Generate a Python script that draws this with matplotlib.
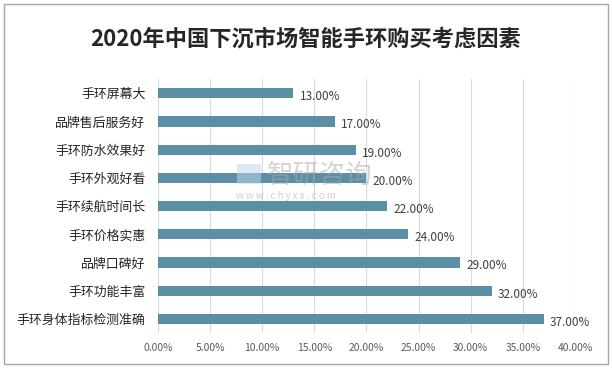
import matplotlib.pyplot as plt
from matplotlib.patches import Rectangle

plt.rcParams['font.family'] = ['Noto Sans CJK SC', 'DejaVu Sans']

# data, top to bottom as shown
factors = ['手环屏幕大', '品牌售后服务好', '手环防水效果好', '手环外观好看', '手环续航时间长',
           '手环价格实惠', '品牌口碑好', '手环功能丰富', '手环身体指标检测准确']
shares = [13.0, 17.0, 19.0, 20.0, 22.0, 24.0, 29.0, 32.0, 37.0]
ticks = [0, 5, 10, 15, 20, 25, 30, 35, 40]

fig = plt.figure(figsize=(6.12, 3.68), dpi=100)
ax = fig.add_axes([0.258, 0.095, 0.6815, 0.69])

ypos = list(range(len(factors)))
ax.barh(ypos, shares, height=0.36, color='#5B8FA6', zorder=3)
for y, v in zip(ypos, shares):
    ax.text(v + 0.6, y + 0.12, f'{v:.2f}%', va='center', ha='left',
            fontsize=8.5, color='#404040', zorder=4)

ax.set_ylim(len(factors) - 0.5, -0.5)
ax.set_yticks(ypos)
ax.set_yticklabels(factors, fontsize=9.3, color='#262626')
ax.set_xlim(0, 40)
ax.set_xticks(ticks)
ax.set_xticklabels([f'{t:.2f}%' for t in ticks], fontsize=7.4, color='#595959')
ax.grid(axis='x', color='#D9D9D9', linewidth=0.8, zorder=0)
for s in ax.spines.values():
    s.set_visible(False)
ax.tick_params(axis='y', length=0, pad=9)
ax.tick_params(axis='x', length=0, pad=7)

fig.suptitle('2020年中国下沉市场智能手环购买考虑因素', y=0.925, fontsize=16,
             fontweight='bold', color='#262626')

# watermark
fig.text(0.437, 0.524, '智研咨询', fontsize=19, color='#A8A8A8', alpha=0.5,
         ha='left', va='center', zorder=5)
fig.text(0.385, 0.467, 'w w w . c h y x x . c o m', fontsize=7, color='#A8A8A8',
         alpha=0.55, ha='left', va='center', zorder=5)
fig.patches.append(Rectangle((0.388, 0.50), 0.038, 0.055, transform=fig.transFigure,
                             facecolor='#BFD7EA', alpha=0.55, edgecolor='none', zorder=5))

# outer frame
fig.patches.append(Rectangle((0.006, 0.012), 0.988, 0.978, transform=fig.transFigure,
                             fill=False, edgecolor='#A6A6A6', linewidth=1.0))

fig.savefig('out.png', dpi=100)
